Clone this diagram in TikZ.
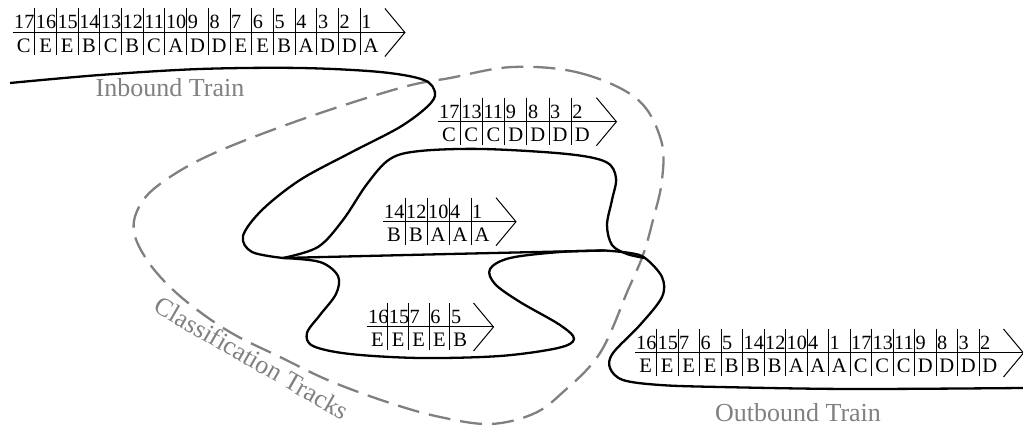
\documentclass[tikz,border=0pt]{standalone}
\usepackage{fontspec}
\setmainfont{Liberation Serif}
\definecolor{tgray}{RGB}{128,128,128}
\tikzset{
  track/.style={line width=1.15pt, black, line join=round},
  zone/.style={line width=1.15pt, tgray, dash pattern=on 11pt off 5pt},
  thinline/.style={line width=0.5pt, black},
  numtxt/.style={anchor=base west, inner sep=0pt, font=\fontsize{10.1}{11}\selectfont},
  lettxt/.style={anchor=base, inner sep=0pt, font=\fontsize{10.3}{11}\selectfont},
  lbl/.style={text=tgray, inner sep=0pt, font=\fontsize{13}{15}\selectfont},
}
% #1 name, #2 x, #3 y, #4 cell width, #5 list num/letter
\newcommand\trainblock[5]{%
  \begin{scope}[shift={(#2,#3)}]
    \foreach \nn/\ll [count=\i] in {#5} {
      \node[numtxt] (#1n\i) at ({(\i-1)*#4+0.8},-3.5) {\nn};
      \node[lettxt] (#1l\i) at ({(\i-0.5)*#4},20) {\ll};
      \ifnum\i>1 \draw[thinline] ({(\i-1)*#4},-24) -- ({(\i-1)*#4},23); \fi
      \xdef\trainn{\i}
    }
    \draw[thinline] (0,0) -- ({\trainn*#4+23},0);
    \draw[thinline] ({\trainn*#4+3},-24) -- ({\trainn*#4+23},0) -- ({\trainn*#4+3},24);
  \end{scope}}
\begin{document}
\begin{tikzpicture}[x=0.5pt,y=-0.5pt]
\useasboundingbox (0,0) rectangle (1023,432);

% trains
\trainblock{a}{13}{32.5}{21.7}{17/C,16/E,15/E,14/B,13/C,12/B,11/C,10/A,9/D,8/D,7/E,6/E,5/B,4/A,3/D,2/D,1/A}
\trainblock{b}{438}{121.7}{22.2}{17/C,13/C,11/C,9/D,8/D,3/D,2/D}
\trainblock{c}{383}{221.7}{22}{14/B,12/B,10/A,4/A,1/A}
\trainblock{d}{367}{327}{20.7}{16/E,15/E,7/E,6/E,5/B}
\trainblock{e}{635}{353}{21.5}{16/E,15/E,7/E,6/E,5/B,14/B,12/B,10/A,4/A,1/A,17/C,13/C,11/C,9/D,8/D,3/D,2/D}

% classification zone
\draw[zone] plot[smooth cycle, tension=0.6] coordinates {
  (513,67) (580,73) (637,99) (661,140) (662,180) (653,220) (643,255) (628,290)
  (600,353) (562,393) (533,414) (490,424) (440,417) (390,403) (330,381) (280,357)
  (235,335) (200,312) (170,287) (147,260) (134,232) (139,207) (160,184) (210,155)
  (300,120) (400,88) (450,78)};

% junction coordinates
\coordinate (L) at (283,258);
\coordinate (R) at (645,258);
\coordinate (M) at (605,250.5);
\coordinate (inS) at (10,83);
\coordinate (outE) at (1023,388);

% inbound track
\draw[track] plot[smooth, tension=0.55] coordinates {
  (inS) (100,75) (200,69) (300,68) (380,72) (424,80) (435,93) (428,106)
  (400,127) (350,153) (300,180) (262,210) (243,236) (252,252) (283,258)};

% upper loop
\draw[track] plot[smooth, tension=0.55] coordinates {
  (L) (318,247) (343,220) (367,184) (390,159) (420,151) (483,149) (567,154)
  (606,162) (616,178) (612,200) (607,225) (612,245) (627,254) (R)};

% straight middle track
\draw[track] plot[smooth, tension=0.5] coordinates {
  (L) (450,254) (M)};

% lower loop
\draw[track] plot[smooth, tension=0.55] coordinates {
  (L) (320,262) (338,276) (336,294) (320,315) (307,333) (313,346) (350,354)
  (420,358) (500,356) (558,348) (574,339) (560,325) (520,302) (495,284)
  (490,269) (510,258) (560,252) (M)};

% outbound track
\draw[track] plot[smooth, tension=0.55] coordinates {
  (M) (630,253) (R) (662,277) (662,297) (640,325) (613,353) (610,368)
  (623,380) (660,385) (720,387) (850,389) (outE)};

% labels
\node[lbl, anchor=base] (inlbl) at (170,97) {Inbound Train};
\node[lbl, anchor=base] (outlbl) at (798,422) {Outbound Train};
\node[lbl, rotate=-30] (cllbl) at (252,358) {Classification Tracks};
\end{tikzpicture}
\end{document}
